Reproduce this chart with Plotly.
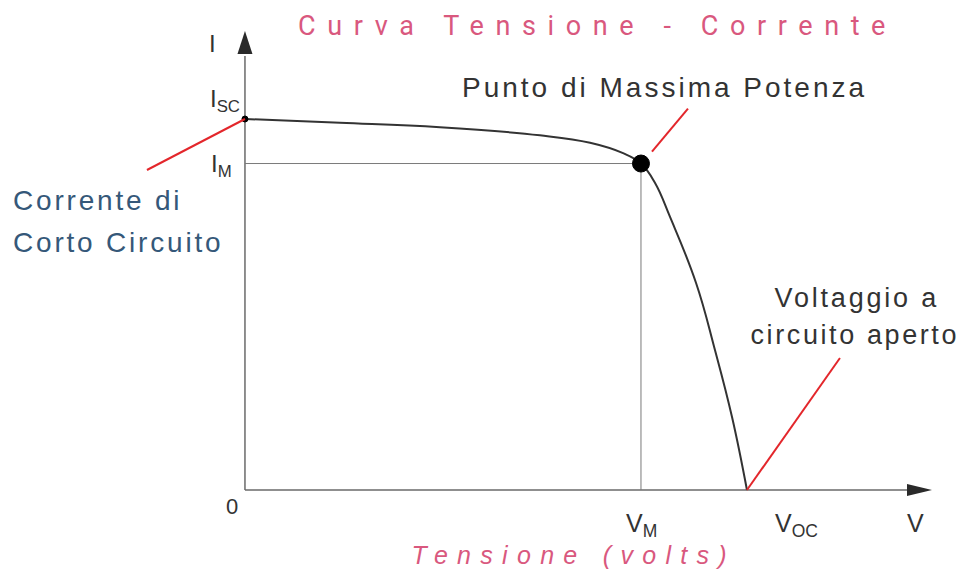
import json
import plotly.graph_objects as go

# Photovoltaic cell I-V characteristic (arbitrary units)
voltage = [0.0, 4.09, 8.39, 12.69, 14.85, 16.27, 17.04, 17.64, 18.29, 19.41, 20.22, 20.96, 21.6]
current = [5.00, 4.95, 4.89, 4.78, 4.68, 4.54, 4.40, 4.14, 3.68, 2.79, 1.89, 0.98, 0.0]

I_SC = 5.00   # short-circuit current
V_OC = 21.6   # open-circuit voltage
V_MP = 17.04  # voltage at maximum power
I_MP = 4.40   # current at maximum power

W, H = 971, 574
X_RANGE = [-10.54, 31.24]
Y_RANGE = [-1.132, 6.604]
DX = (X_RANGE[1] - X_RANGE[0]) / W
DY = (Y_RANGE[1] - Y_RANGE[0]) / H


def to_x(px):
    return X_RANGE[0] + px * DX


def to_y(py):
    return Y_RANGE[1] - py * DY


AXIS_COLOR = "#6a6a6a"
CURVE_COLOR = "#333333"
GUIDE_COLOR = "#7a7a7a"
RED = "#e3262b"
PINK = "#d9587e"
BLUE = "#355879"
LABEL = "#333333"

fig = go.Figure()

# I-V curve
fig.add_trace(go.Scatter(
    x=voltage, y=current, mode="lines",
    line=dict(color=CURVE_COLOR, width=2, shape="spline", smoothing=1.2),
    hoverinfo="skip", showlegend=False,
))
# short-circuit point and maximum power point
fig.add_trace(go.Scatter(
    x=[0, V_MP], y=[I_SC, I_MP], mode="markers",
    marker=dict(color="#000000", size=[6, 17], opacity=1,
                line=dict(color="#000000", width=1)),
    hoverinfo="skip", showlegend=False,
))

shapes = []
# axes
x_tip, x_base = to_x(932), to_x(907)
y_tip, y_base = to_y(31), to_y(54)
shapes.append(dict(type="line", x0=0, y0=0, x1=x_base + 2 * DX, y1=0,
                   line=dict(color=AXIS_COLOR, width=1.5), layer="below"))
shapes.append(dict(type="line", x0=0, y0=0, x1=0, y1=y_base - 2 * DY,
                   line=dict(color=AXIS_COLOR, width=1.5), layer="below"))
hx = 6 * DY
shapes.append(dict(type="path",
                   path=f"M {x_tip},0 L {x_base},{hx} L {x_base},{-hx} Z",
                   fillcolor="#2a2a2a", line=dict(width=0)))
hy = 7.5 * DX
shapes.append(dict(type="path",
                   path=f"M 0,{y_tip} L {-hy},{y_base} L {hy},{y_base} Z",
                   fillcolor="#2a2a2a", line=dict(width=0)))
# guide lines to the maximum power point
shapes.append(dict(type="line", x0=0, y0=I_MP, x1=V_MP, y1=I_MP,
                   line=dict(color=GUIDE_COLOR, width=1), layer="below"))
shapes.append(dict(type="line", x0=V_MP, y0=0, x1=V_MP, y1=I_MP,
                   line=dict(color=GUIDE_COLOR, width=1), layer="below"))
# red leader lines (pixel offsets from the points they point to)
shapes.append(dict(type="line", x0=0, y0=I_SC, x1=-98 * DX, y1=I_SC - 51 * DY,
                   line=dict(color=RED, width=2)))
shapes.append(dict(type="line", x0=V_MP + 11 * DX, y0=I_MP + 12 * DY,
                   x1=V_MP + 47 * DX, y1=I_MP + 55 * DY,
                   line=dict(color=RED, width=2)))
shapes.append(dict(type="line", x0=V_OC, y0=0, x1=V_OC + 93 * DX, y1=132 * DY,
                   line=dict(color=RED, width=2)))

SANS = "Liberation Sans, Arial, sans-serif"


def ann(text, x, y, size, color=LABEL, xanchor="center", yanchor="middle",
        xshift=0, yshift=0, family=SANS, style="normal", align="center"):
    return dict(text=text, x=x, y=y, xref="x", yref="y", showarrow=False,
                xanchor=xanchor, yanchor=yanchor, xshift=xshift, yshift=yshift,
                align=align, borderpad=0,
                font=dict(family=family, size=size, color=color, style=style))


annotations = [
    ann("Curva Tensione - Corrente", to_x(597), to_y(26), 27, color=PINK,
        family="Roboto, sans-serif"),
    ann("Tensione (volts)", to_x(574), to_y(555), 25, color=PINK, style="italic"),
    ann("Punto di Massima Potenza", to_x(664), to_y(87), 28),
    ann("Corrente di", to_x(12), to_y(200), 28, color=BLUE, xanchor="left", align="left"),
    ann("Corto Circuito", to_x(12), to_y(242), 28, color=BLUE, xanchor="left", align="left"),
    ann("Voltaggio a", to_x(857), to_y(298), 27),
    ann("circuito aperto", to_x(855), to_y(335), 27),
    ann("I", 0, to_y(43), 24, xshift=-32),
    ann("I<sub>SC</sub>", 0, I_SC, 24, xanchor="right", xshift=-4, yshift=19),
    ann("I<sub>M</sub>", 0, I_MP, 24, xanchor="right", xshift=-12, yshift=-2),
    ann("0", 0, 0, 22, xshift=-13, yshift=-16),
    ann("V<sub>M</sub>", V_MP, 0, 25, xshift=1, yshift=-35),
    ann("V<sub>OC</sub>", V_OC, 0, 25, xshift=50, yshift=-35),
    ann("V", to_x(915), 0, 25, yshift=-33),
]

fig.update_layout(
    width=W, height=H,
    margin=dict(l=0, r=0, t=0, b=0),
    paper_bgcolor="white", plot_bgcolor="white",
    xaxis=dict(range=X_RANGE, visible=False, fixedrange=True),
    yaxis=dict(range=Y_RANGE, visible=False, fixedrange=True),
    shapes=shapes, annotations=annotations,
)

# tracking (letter spacing, px) for the wide-set captions
letter_spacing = {
    "Curva Tensione - Corrente": 11.6,
    "Tensione (volts)": 9.3,
    "Punto di Massima Potenza": 3.0,
    "Corrente di": 2.8,
    "Corto Circuito": 2.8,
    "Voltaggio a": 2.8,
    "circuito aperto": 2.6,
}

post = """
var gd = document.getElementById('{plot_id}');
var sp = %s;
gd.querySelectorAll('text.annotation-text').forEach(function (t) {
  var s = sp[t.textContent.trim()];
  if (s !== undefined) { t.style.letterSpacing = s + 'px'; }
});
""" % json.dumps(letter_spacing)

fig.write_html("out.html", post_script=post, config={"displayModeBar": False})
